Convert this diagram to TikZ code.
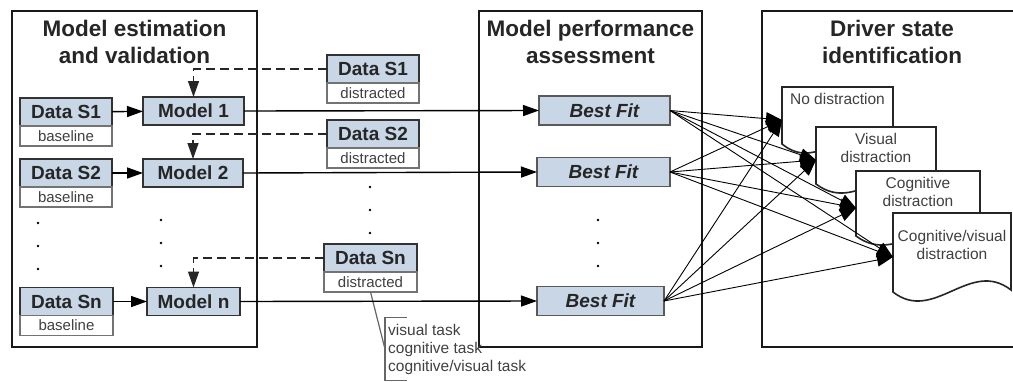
\documentclass[tikz,border=0pt]{standalone}
\usepackage{fontspec}
\setmainfont{Liberation Sans}
\usepackage{xcolor}
\usetikzlibrary{arrows.meta,positioning}

\definecolor{boxblue}{HTML}{C8D6E6}

\begin{document}
\begin{tikzpicture}[
  x=1pt, y=-1pt,
  >={Triangle[length=16pt,width=11pt]},
  panel/.style={
    draw=black!90,
    line width=1.8pt,
    inner sep=0pt,
    outer sep=0pt,
    minimum height=336pt
  },
  title/.style={
    font=\fontsize{22.5}{27}\selectfont\bfseries,
    align=center,
    inner sep=0pt,
    text=black!85
  },
  datbox/.style={
    draw=black!80,
    line width=1.6pt,
    fill=boxblue,
    minimum height=28pt,
    inner sep=0pt,
    outer sep=0pt,
    font=\fontsize{19}{22}\selectfont\bfseries,
    text=black!85
  },
  subbox/.style={
    draw=black!55,
    line width=1.2pt,
    fill=white,
    minimum height=20pt,
    inner sep=0pt,
    outer sep=0pt,
    font=\fontsize{15}{18}\selectfont,
    text=black!75
  },
  fitbox/.style={
    draw=black!65,
    line width=1.4pt,
    fill=boxblue,
    minimum height=29pt,
    inner sep=0pt,
    outer sep=0pt,
    font=\fontsize{19}{22}\selectfont\bfseries\itshape,
    text=black!85
  },
  flow/.style={->, line width=1.4pt},
  cue/.style={->, line width=1.4pt, dash pattern=on 9pt off 5pt, draw=black!85},
  fan/.style={-{Triangle[length=16pt,width=13pt]}, line width=0.9pt},
  docarea/.style={inner sep=0pt, outer sep=0pt},
  docline/.style={draw=black!85, line width=1.6pt, fill=white},
  doctext/.style={
    font=\fontsize{15.5}{18.5}\selectfont,
    align=center,
    inner sep=0pt,
    text=black!75
  },
  tasknote/.style={
    font=\fontsize{15.5}{18}\selectfont,
    align=left,
    inner xsep=3pt,
    inner ysep=0pt,
    minimum height=62pt,
    text=black!75
  },
  callout/.style={draw=black!60, line width=1.2pt}
]
\useasboundingbox (0,0) rectangle (1013,381);

%-----------------------------
% Panels and titles
%-----------------------------
\node[panel, minimum width=245pt] (estpanel) at (134.5,179) {};
\node[panel, minimum width=223pt] (perfpanel) at (590.5,179) {};
\node[panel, minimum width=260pt] (statepanel) at (892,179) {};

\node[title, anchor=north] (esttitle) at (134.5,19.5) {Model estimation\\and validation};
\node[title, anchor=north] (perftitle) at (590.5,19.5) {Model performance\\assessment};
\node[title, anchor=north] (statetitle) at (892,19.5) {Driver state\\identification};

%-----------------------------
% Baseline data and models
%-----------------------------
\node[datbox, minimum width=92pt] (ds1) at (66,112) {Data S1};
\node[subbox, minimum width=92pt, below=0pt of ds1] (bl1) {baseline};
\node[datbox, minimum width=92pt] (ds2) at (66,173) {Data S2};
\node[subbox, minimum width=92pt, below=0pt of ds2] (bl2) {baseline};
\node[datbox, minimum width=93pt] (dsn) at (66.5,301.5) {Data Sn};
\node[subbox, minimum width=93pt, below=0pt of dsn] (bln) {baseline};

\node[datbox, minimum width=101pt] (m1) at (193.5,111) {Model 1};
\node[datbox, minimum width=100pt] (m2) at (193,173) {Model 2};
\node[datbox, minimum width=93pt] (mn) at (193.5,301.5) {Model n};

\draw[flow] (ds1) -- (m1);
\draw[flow] (ds2) -- (m2);
\draw[flow] (dsn) -- (mn);

\foreach \yy in {223,246,269} \fill (38,\yy) circle (1.4pt);
\foreach \yy in {220,243,266} \fill (161,\yy) circle (1.4pt);

%-----------------------------
% Distracted data
%-----------------------------
\node[datbox, minimum width=92pt] (dd1) at (373,69) {Data S1};
\node[subbox, minimum width=92pt, below=0pt of dd1] (dis1) {distracted};
\node[datbox, minimum width=92pt] (dd2) at (373,134) {Data S2};
\node[subbox, minimum width=92pt, below=0pt of dd2] (dis2) {distracted};
\node[datbox, minimum width=93pt] (ddn) at (370.5,258) {Data Sn};
\node[subbox, minimum width=93pt, below=0pt of ddn] (disn) {distracted};

\foreach \yy in {187,210,233} \fill (370,\yy) circle (1.4pt);

\draw[cue] (dd1.west) -| (m1.north);
\draw[cue] (dd2.west) -| (m2.north);
\draw[cue] (ddn.west) -| (mn.north);

\node[tasknote, anchor=west] (tasks) at (385,349) {visual task\\cognitive task\\cognitive/visual task};
\draw[callout] (disn.south) -- (tasks.west);
\draw[callout] ([xshift=22pt]tasks.north west) -- (tasks.north west)
  -- (tasks.south west) -- ([xshift=22pt]tasks.south west);

%-----------------------------
% Performance assessment
%-----------------------------
\node[fitbox, minimum width=131pt] (bf1) at (604.5,110.5) {Best Fit};
\node[fitbox, minimum width=133pt] (bf2) at (603.5,172) {Best Fit};
\node[fitbox, minimum width=127pt] (bfn) at (600.5,301) {Best Fit};

\foreach \yy in {220,243,266} \fill (598,\yy) circle (1.4pt);

\draw[flow] (m1.east) -- (bf1.west);
\draw[flow] (m2.east) -- (bf2.west);
\draw[flow] (mn.east) -- (bfn.west);

%-----------------------------
% Driver states
%-----------------------------
\node[docarea, minimum width=111pt, minimum height=66pt] (nodis) at (837.5,120) {};
\draw[docline] (nodis.north west) -- (nodis.north east) -- ([yshift=11pt]nodis.south east)
  .. controls +(-39pt,32pt) and +(39pt,-32pt) .. ([yshift=9pt]nodis.south west) -- cycle;
\node[doctext, below=6pt of nodis.north] (nodistxt) {No distraction};

\node[docarea, minimum width=120pt, minimum height=66pt] (visdis) at (876,160) {};
\draw[docline] (visdis.north west) -- (visdis.north east) -- ([yshift=11pt]visdis.south east)
  .. controls +(-42pt,32pt) and +(42pt,-32pt) .. ([yshift=9pt]visdis.south west) -- cycle;
\node[doctext, below=6pt of visdis.north] (visdistxt) {Visual\\distraction};

\node[docarea, minimum width=124pt, minimum height=74pt] (cogdis) at (918,208) {};
\draw[docline] (cogdis.north west) -- (cogdis.north east) -- ([yshift=11pt]cogdis.south east)
  .. controls +(-43pt,32pt) and +(43pt,-32pt) .. ([yshift=9pt]cogdis.south west) -- cycle;
\node[doctext, below=6pt of cogdis.north] (cogdistxt) {Cognitive\\distraction};

\node[docarea, minimum width=118pt, minimum height=88pt] (cvdis) at (952,257) {};
\draw[docline] (cvdis.north west) -- (cvdis.north east) -- ([yshift=11pt]cvdis.south east)
  .. controls +(-41pt,32pt) and +(41pt,-32pt) .. ([yshift=9pt]cvdis.south west) -- cycle;
\node[doctext, below=17pt of cvdis.north] (cvdistxt) {Cognitive/visual\\distraction};

%-----------------------------
% Best fit to driver state
%-----------------------------
\draw[fan] (bf1.east) -- (nodis.west);
\draw[fan] (bf1.east) -- (visdis.west);
\draw[fan] (bf1.east) -- (cogdis.west);
\draw[fan] (bf1.east) -- (cvdis.west);
\draw[fan] (bf2.east) -- (nodis.west);
\draw[fan] (bf2.east) -- (visdis.west);
\draw[fan] (bf2.east) -- (cogdis.west);
\draw[fan] (bf2.east) -- (cvdis.west);
\draw[fan] (bfn.east) -- (nodis.west);
\draw[fan] (bfn.east) -- (visdis.west);
\draw[fan] (bfn.east) -- (cogdis.west);
\draw[fan] (bfn.east) -- (cvdis.west);

\end{tikzpicture}
\end{document}
